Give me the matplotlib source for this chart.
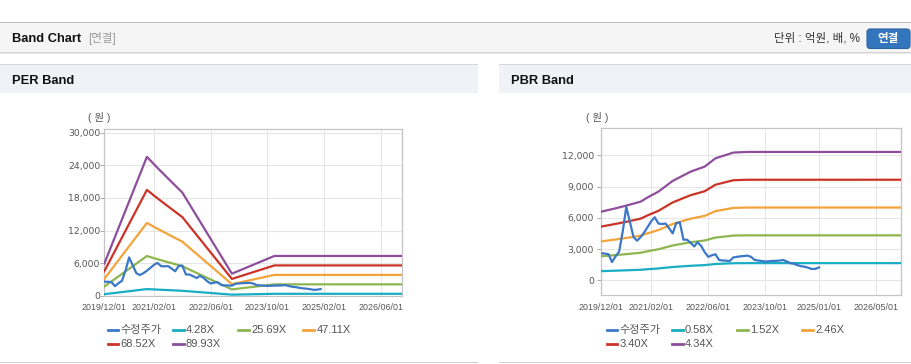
#!/usr/bin/env python3
# -*- coding=utf-8 -*-

import datetime as dt
import matplotlib
matplotlib.use("Agg")
import matplotlib.pyplot as plt
import matplotlib.dates as mdates
import pandas as pd
from matplotlib.patches import Rectangle, FancyBboxPatch
from matplotlib.lines import Line2D
from matplotlib.transforms import IdentityTransform

plt.rcParams['font.family'] = ['Liberation Sans', 'Noto Sans CJK KR', 'DejaVu Sans']

# ---- data -------------------------------------------------------------
# adjusted price (수정주가), monthly from 2019/12/01
price = [2590, 2560, 2500, 1750, 2300, 2750, 4700, 7050, 5600, 4150,
         3800, 4150, 4600, 5150, 5700, 6050, 5450, 5400, 5450, 5000,
         4500, 5500, 5550, 3900, 3900, 3600, 3250, 3650, 3300, 2700,
         2250, 2400, 2500, 1950, 1900, 1880, 1850, 2200, 2250, 2300,
         2330, 2370, 2250, 1950, 1900, 1850, 1800, 1830, 1860, 1870,
         1890, 1950, 1800, 1650, 1580, 1450, 1350, 1300, 1200, 1080,
         1100, 1230]

# PER band: EPS used for band lines
per_dates = ['2019-12-01', '2020-12-01', '2021-03-01', '2021-06-01', '2021-10-01',
             '2022-12-01', '2023-12-01', '2026-12-01']
eps = [65.6, 284.4, 261.9, 240.0, 211.3, 45.1, 81.4, 81.4]
per_mults = [4.28, 25.69, 47.11, 68.52, 89.93]

# PBR band: BPS used for band lines
pbr_dates = ['2019-12-01', '2020-04-01', '2020-07-01', '2020-11-01', '2021-01-01',
             '2021-04-01', '2021-08-01', '2022-01-01', '2022-05-01', '2022-08-01',
             '2023-01-01', '2023-05-01', '2026-12-01']
bps = [1518, 1592, 1652, 1740, 1836, 1961, 2198, 2403, 2514, 2698, 2825, 2839, 2839]
pbr_mults = [0.58, 1.52, 2.46, 3.40, 4.34]

per_ticks = ['2019/12/01', '2021/02/01', '2022/06/01', '2023/10/01', '2025/02/01', '2026/06/01']
pbr_ticks = ['2019/12/01', '2021/02/01', '2022/06/01', '2023/10/01', '2025/01/01', '2026/05/01']
per_yticks = [0, 6000, 12000, 18000, 24000, 30000]
pbr_yticks = [0, 3000, 6000, 9000, 12000]

price_label = '수정주가'
colors = ['#3b78c8', '#19adc4', '#8db64f', '#f2a33a', '#cc3328', '#8f4e9b']

W, H = 912, 364
PX = IdentityTransform()


def rect(x, y, w, h, color, **kw):
    fig.add_artist(Rectangle((x, H - y - h), w, h, transform=PX, facecolor=color,
                             edgecolor='none', **kw))


def text(x, y, s, **kw):
    fig.text(x, H - y, s, transform=PX, **kw)


fig = plt.figure(figsize=(W / 100, H / 100), dpi=100)
fig.patch.set_facecolor('white')

# ---- page header ------------------------------------------------------
rect(0, 22, W, 31, '#f5f5f5')
rect(0, 21.5, W, 1.5, '#bdbdbd')
rect(0, 52, W, 1.2, '#d4d4d4')
rect(0, 53.2, W, 1.0, '#e8e8e8')
text(12, 38.5, 'Band Chart', fontsize=9.3, fontweight='bold', color='#111111', va='center')
text(88, 38.5, '[연결]', fontsize=8.3, color='#9a9a9a', va='center')
text(860, 38.5, '단위 : 억원, 배, %', fontsize=8.3, color='#333333', va='center', ha='right')
fig.add_artist(FancyBboxPatch((867, H - 48.5), 43, 19.5, transform=PX,
                              boxstyle='round,pad=0,rounding_size=3',
                              facecolor='#3476bd', edgecolor='#2b64a3', lw=0.8))
text(888.5, 38.8, '연결', fontsize=8.3, fontweight='bold', color='white', va='center', ha='center')

# ---- panels -----------------------------------------------------------
for px0, px1, title in [(0, 478, 'PER Band'), (499, W, 'PBR Band')]:
    rect(px0, 64, px1 - px0, 29, '#eff3f7')
    rect(px0, 63.5, px1 - px0, 1.5, '#d6d6d6')
    rect(px0, 361.8, px1 - px0, 1.5, '#d0d0d0')
    text(px0 + 12, 80.5, title, fontsize=9.3, fontweight='bold', color='#111111', va='center')


def band_chart(rect_px, dates, base, mults, ylim, yticks, ticks, unit_x, leg_x, ypad):
    x0, y0, x1, y1 = rect_px
    ax = fig.add_axes([x0 / W, 1 - y1 / H, (x1 - x0) / W, (y1 - y0) / H])
    d = pd.to_datetime(dates)
    pdates = pd.date_range('2019-12-01', periods=len(price), freq='MS')
    handles = []
    h, = ax.plot(pdates, price, color=colors[0], lw=1.6, zorder=4)
    handles.append((h, price_label))
    for i, m in enumerate(mults):
        h, = ax.plot(d, [b * m for b in base], color=colors[i + 1], lw=1.6, zorder=3)
        handles.append((h, '%.2fX' % m))
    ax.set_xlim(dt.date(2019, 12, 1), dt.date(2026, 12, 1))
    ax.set_ylim(*ylim)
    ax.set_yticks(yticks)
    ax.set_yticklabels(['{:,}'.format(v) for v in yticks], family='DejaVu Sans')
    ax.set_xticks([mdates.date2num(dt.datetime.strptime(t, '%Y/%m/%d')) for t in ticks])
    ax.set_xticklabels(ticks)
    ax.grid(True, color='#e6e6e6', lw=0.8)
    ax.set_axisbelow(True)
    for s in ax.spines.values():
        s.set_color('#c4c4c4')
        s.set_linewidth(0.9)
    ax.tick_params(axis='both', colors='#aaaaaa', labelcolor='#555555', width=0.7)
    ax.tick_params(axis='x', labelsize=6.4, length=0, pad=5.6)
    ax.tick_params(axis='y', labelsize=6.7, length=2.6, pad=ypad)
    text(unit_x, 117.5, '( 원 )', fontsize=7.5, color='#555555', va='center', ha='center')
    # legend, four entries per row
    for i, (hh, lab) in enumerate(handles):
        lx = leg_x + (i % 4) * 65.2
        ly = 330 + (i // 4) * 14
        fig.add_artist(Line2D([lx, lx + 10.6], [H - ly, H - ly], transform=PX,
                              color=hh.get_color(), lw=2))
        text(lx + 13, ly, lab, fontsize=8, color='#555555', va='center')
    return ax


band_chart((104.3, 129, 402, 295.7), per_dates, eps, per_mults, (0, 30700),
           per_yticks, per_ticks, 99, 107.7, 0.4)
band_chart((601.3, 128.3, 901, 295.3), pbr_dates, bps, pbr_mults, (-1440, 14590),
           pbr_yticks, pbr_ticks, 597, 606.7, 2.8)

fig.savefig('out.png', dpi=100)
